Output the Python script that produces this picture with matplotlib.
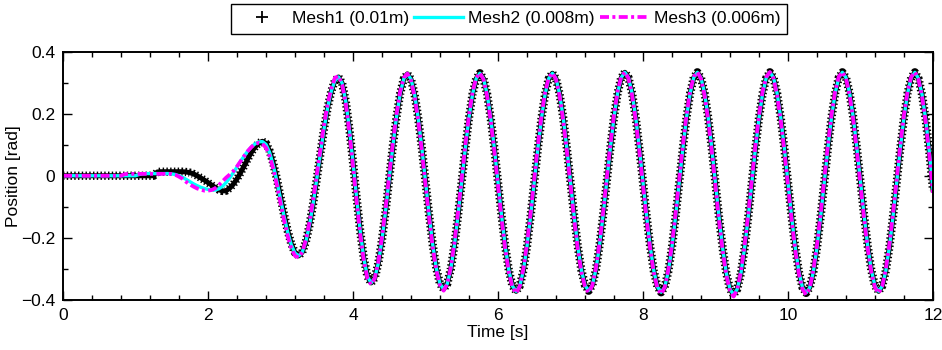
import numpy as np
import matplotlib
matplotlib.use("Agg")
import matplotlib.pyplot as plt
from matplotlib.lines import Line2D
from matplotlib.legend_handler import HandlerLine2D
from matplotlib.ticker import MultipleLocator, FuncFormatter

plt.rcParams["font.family"] = ["Liberation Sans", "DejaVu Sans"]

# sample grid of the read-off values (every 0.05 s)
time_s = np.round(np.arange(0, 12.0001, 0.05), 2)

# Mesh1 (0.01m) - position [rad]
mesh1_pos = [
    0.000, 0.000, 0.000, 0.000, 0.000, 0.000, 0.000, 0.000, 0.000, 0.000,
    0.000, 0.000, 0.000, 0.000, 0.000, 0.000, 0.000, 0.000, 0.000, 0.000,
    0.000, 0.000, 0.000, 0.000, 0.000, 0.000, 0.012, 0.013, 0.013, 0.013,
    0.013, 0.013, 0.013, 0.013, 0.012, 0.010, 0.006, 0.000, -0.007, -0.014,
    -0.022, -0.030, -0.038, -0.045, -0.049, -0.048, -0.040, -0.027, -0.010, 0.010,
    0.032, 0.055, 0.076, 0.093, 0.105, 0.111, 0.104, 0.080, 0.040, -0.010,
    -0.068, -0.126, -0.178, -0.220, -0.248, -0.258, -0.246, -0.212, -0.159, -0.090,
    -0.011, 0.071, 0.150, 0.219, 0.272, 0.306, 0.318, 0.298, 0.240, 0.152,
    0.044, -0.071, -0.179, -0.267, -0.325, -0.345, -0.329, -0.281, -0.206, -0.113,
    -0.009, 0.096, 0.189, 0.264, 0.312, 0.328, 0.311, 0.262, 0.185, 0.089,
    -0.019, -0.126, -0.222, -0.299, -0.348, -0.365, -0.348, -0.299, -0.222, -0.125,
    -0.018, 0.090, 0.187, 0.264, 0.313, 0.330, 0.313, 0.263, 0.185, 0.088,
    -0.021, -0.130, -0.227, -0.305, -0.355, -0.372, -0.355, -0.305, -0.227, -0.130,
    -0.021, 0.088, 0.185, 0.263, 0.313, 0.330, 0.313, 0.263, 0.186, 0.088,
    -0.020, -0.128, -0.226, -0.303, -0.353, -0.370, -0.353, -0.303, -0.225, -0.127,
    -0.019, 0.090, 0.188, 0.266, 0.316, 0.333, 0.316, 0.265, 0.187, 0.088,
    -0.021, -0.130, -0.229, -0.307, -0.358, -0.375, -0.358, -0.307, -0.229, -0.130,
    -0.021, 0.088, 0.187, 0.265, 0.316, 0.333, 0.315, 0.265, 0.186, 0.086,
    -0.025, -0.136, -0.235, -0.315, -0.365, -0.383, -0.365, -0.315, -0.235, -0.136,
    -0.025, 0.086, 0.186, 0.265, 0.315, 0.333, 0.316, 0.265, 0.187, 0.088,
    -0.022, -0.132, -0.231, -0.309, -0.360, -0.377, -0.360, -0.309, -0.231, -0.132,
    -0.022, 0.088, 0.187, 0.265, 0.316, 0.333, 0.316, 0.266, 0.188, 0.089,
    -0.020, -0.128, -0.227, -0.305, -0.355, -0.372, -0.355, -0.305, -0.227, -0.128,
    -0.020, 0.089, 0.188, 0.266, 0.316, 0.333, 0.313, 0.260, 0.180, 0.075,
    -0.045,
]

# Mesh2 (0.008m)
mesh2_pos = [
    0.000, 0.000, 0.000, 0.000, 0.000, 0.000, 0.000, 0.000, 0.000, 0.000,
    0.000, 0.000, 0.000, 0.000, 0.000, 0.000, 0.000, 0.000, 0.000, 0.000,
    0.000, 0.004, 0.006, 0.007, 0.007, 0.007, 0.007, 0.007, 0.007, 0.007,
    0.006, 0.004, 0.000, -0.005, -0.012, -0.019, -0.026, -0.032, -0.037, -0.041,
    -0.044, -0.046, -0.046, -0.042, -0.034, -0.022, -0.007, 0.010, 0.028, 0.047,
    0.064, 0.080, 0.093, 0.103, 0.109, 0.110, 0.101, 0.075, 0.034, -0.017,
    -0.074, -0.131, -0.182, -0.223, -0.249, -0.258, -0.246, -0.212, -0.159, -0.090,
    -0.011, 0.071, 0.150, 0.219, 0.272, 0.306, 0.318, 0.298, 0.240, 0.152,
    0.044, -0.071, -0.179, -0.267, -0.325, -0.345, -0.329, -0.281, -0.206, -0.113,
    -0.009, 0.096, 0.189, 0.264, 0.312, 0.328, 0.311, 0.262, 0.185, 0.089,
    -0.019, -0.126, -0.222, -0.299, -0.348, -0.365, -0.348, -0.299, -0.222, -0.125,
    -0.018, 0.090, 0.187, 0.264, 0.313, 0.330, 0.313, 0.263, 0.185, 0.088,
    -0.021, -0.130, -0.227, -0.305, -0.355, -0.372, -0.355, -0.305, -0.227, -0.130,
    -0.021, 0.088, 0.185, 0.263, 0.313, 0.330, 0.313, 0.263, 0.186, 0.088,
    -0.020, -0.128, -0.226, -0.303, -0.353, -0.370, -0.353, -0.303, -0.225, -0.127,
    -0.019, 0.090, 0.188, 0.266, 0.316, 0.333, 0.316, 0.265, 0.187, 0.088,
    -0.021, -0.130, -0.229, -0.307, -0.358, -0.375, -0.358, -0.307, -0.229, -0.130,
    -0.021, 0.088, 0.187, 0.265, 0.316, 0.333, 0.315, 0.265, 0.186, 0.086,
    -0.025, -0.136, -0.235, -0.315, -0.365, -0.383, -0.365, -0.315, -0.235, -0.136,
    -0.025, 0.086, 0.186, 0.265, 0.315, 0.333, 0.316, 0.265, 0.187, 0.088,
    -0.022, -0.132, -0.231, -0.309, -0.360, -0.377, -0.360, -0.309, -0.231, -0.132,
    -0.022, 0.088, 0.187, 0.265, 0.316, 0.333, 0.316, 0.266, 0.188, 0.089,
    -0.020, -0.128, -0.227, -0.305, -0.355, -0.372, -0.355, -0.305, -0.227, -0.128,
    -0.020, 0.089, 0.188, 0.266, 0.316, 0.333, 0.313, 0.260, 0.180, 0.075,
    -0.045,
]

# Mesh3 (0.006m)
mesh3_pos = [
    0.000, 0.000, 0.000, 0.000, 0.000, 0.000, 0.000, 0.000, 0.000, 0.000,
    0.000, 0.000, 0.000, 0.000, 0.000, 0.000, 0.000, 0.005, 0.006, 0.006,
    0.006, 0.006, 0.006, 0.006, 0.006, 0.006, 0.006, 0.006, 0.006, 0.006,
    0.006, 0.003, -0.003, -0.010, -0.020, -0.028, -0.035, -0.041, -0.045, -0.048,
    -0.048, -0.046, -0.040, -0.030, -0.018, -0.006, 0.004, 0.015, 0.030, 0.047,
    0.064, 0.080, 0.093, 0.102, 0.106, 0.103, 0.090, 0.063, 0.022, -0.030,
    -0.088, -0.145, -0.195, -0.235, -0.258, -0.263, -0.246, -0.206, -0.149, -0.077,
    0.004, 0.087, 0.164, 0.231, 0.281, 0.315, 0.321, 0.294, 0.232, 0.141,
    0.032, -0.083, -0.190, -0.275, -0.332, -0.350, -0.330, -0.275, -0.197, -0.103,
    0.002, 0.107, 0.198, 0.271, 0.315, 0.329, 0.306, 0.254, 0.176, 0.079,
    -0.030, -0.137, -0.231, -0.306, -0.353, -0.370, -0.349, -0.293, -0.213, -0.115,
    -0.007, 0.101, 0.196, 0.271, 0.316, 0.331, 0.310, 0.256, 0.176, 0.078,
    -0.032, -0.141, -0.236, -0.312, -0.360, -0.378, -0.356, -0.299, -0.218, -0.120,
    -0.010, 0.099, 0.194, 0.270, 0.316, 0.331, 0.310, 0.256, 0.177, 0.078,
    -0.031, -0.139, -0.235, -0.310, -0.358, -0.376, -0.354, -0.297, -0.216, -0.117,
    -0.008, 0.101, 0.197, 0.273, 0.319, 0.334, 0.313, 0.258, 0.178, 0.078,
    -0.032, -0.141, -0.238, -0.314, -0.363, -0.381, -0.359, -0.301, -0.220, -0.120,
    -0.010, 0.099, 0.196, 0.272, 0.319, 0.334, 0.312, 0.258, 0.177, 0.076,
    -0.036, -0.147, -0.244, -0.322, -0.370, -0.389, -0.366, -0.309, -0.226, -0.126,
    -0.014, 0.097, 0.195, 0.272, 0.318, 0.334, 0.313, 0.258, 0.178, 0.078,
    -0.033, -0.143, -0.240, -0.316, -0.365, -0.383, -0.361, -0.303, -0.222, -0.122,
    -0.011, 0.099, 0.196, 0.272, 0.319, 0.334, 0.313, 0.259, 0.179, 0.079,
    -0.031, -0.139, -0.236, -0.312, -0.360, -0.378, -0.356, -0.299, -0.218, -0.118,
    -0.009, 0.100, 0.197, 0.273, 0.319, 0.334, 0.310, 0.253, 0.171, 0.065,
    -0.055,
]

labels = ["Mesh1 (0.01m)", "Mesh2 (0.008m)", "Mesh3 (0.006m)"]


class LeftMarkerHandler(HandlerLine2D):
    # puts the single legend marker near the left end of the handle box
    def get_xdata(self, legend, xdescent, ydescent, width, height, fontsize):
        xdata, _ = super().get_xdata(legend, xdescent, ydescent, width, height, fontsize)
        return xdata, np.array([-xdescent + 0.12 * width])


FS = 12.5

fig = plt.figure(figsize=(9.42, 3.5), dpi=100)
ax = fig.add_axes([63 / 942, 50 / 350, 870 / 942, 248.5 / 350])

# Mesh1 is drawn with dense '+' markers in the original: a black core plus
# a wide dashed band gives the same look
ax.plot(time_s, mesh1_pos, color="k", lw=3.6)
ax.plot(time_s, mesh1_pos, color="k", lw=6.0, linestyle=(0, (0.17, 0.28)))
l2, = ax.plot(time_s, mesh2_pos, color="cyan", lw=2.4)
l3, = ax.plot(time_s, mesh3_pos, color="magenta", lw=2.7,
              linestyle=(0, (2.4, 0.9, 0.8, 0.9)))

ax.set_xlim(0, 12)
ax.set_ylim(-0.4, 0.4)
ax.xaxis.set_major_locator(MultipleLocator(2))
ax.xaxis.set_minor_locator(MultipleLocator(0.4))
ax.yaxis.set_major_locator(MultipleLocator(0.2))
ax.yaxis.set_minor_locator(MultipleLocator(0.1))
fmt = FuncFormatter(lambda v, p: ("%g" % round(v, 3)).replace("-", "\u2212"))
ax.xaxis.set_major_formatter(fmt)
ax.yaxis.set_major_formatter(fmt)
ax.tick_params(which="both", direction="in", top=True, right=True,
               labelsize=FS, width=1.0)
ax.tick_params(which="major", length=6.3, pad=5.5)
ax.tick_params(which="minor", length=3.5)
for s in ax.spines.values():
    s.set_linewidth(1.4)

ax.set_xlabel("Time [s]", fontsize=FS, labelpad=2)
ax.set_ylabel("Position [rad]", fontsize=FS, labelpad=0)

h1 = Line2D([], [], color="k", marker="+", linestyle="none",
            markersize=8, markeredgewidth=1.3)
leg = fig.legend([h1, l2, l3], labels, loc="upper center",
                 bbox_to_anchor=(509 / 942, 1 - 4 / 350), ncol=3,
                 fontsize=FS, fancybox=False, edgecolor="k", framealpha=1,
                 handlelength=2.8, handletextpad=0.3, columnspacing=0.3,
                 borderpad=0.42, borderaxespad=0,
                 handler_map={h1: LeftMarkerHandler()})
leg.get_frame().set_linewidth(1.0)

fig.savefig("out.png", dpi=100)
